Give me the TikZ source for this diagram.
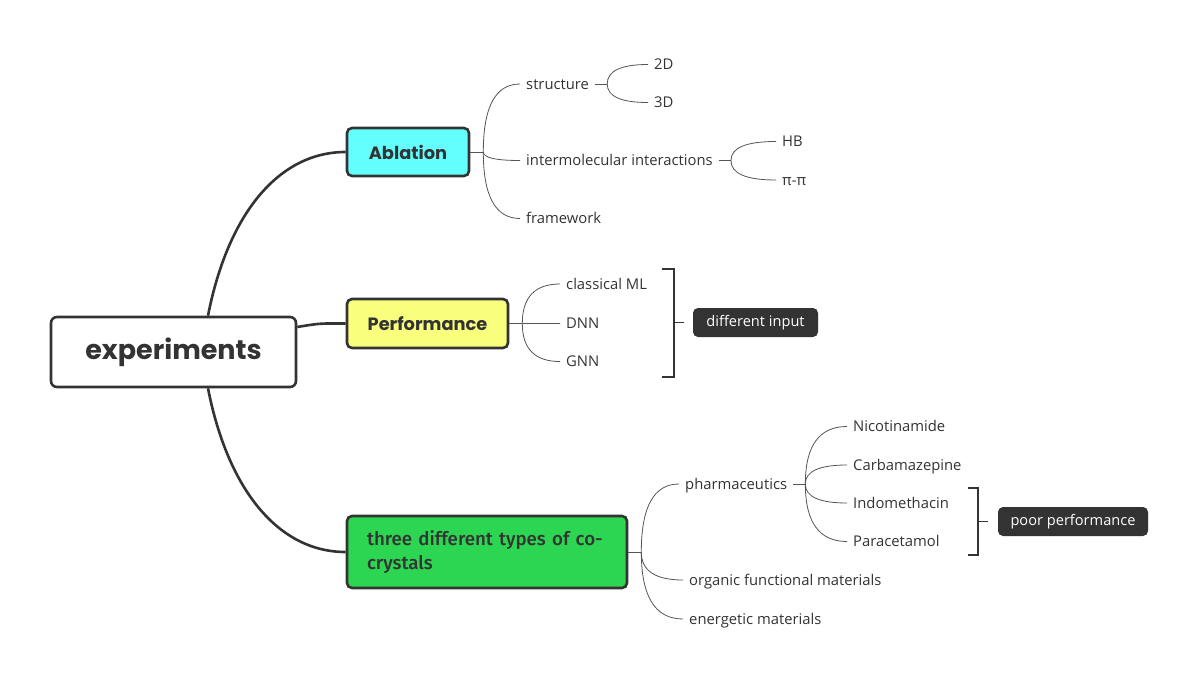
\documentclass[tikz,border=0pt]{standalone}
\usepackage{fontspec}
\setmainfont{Open Sans}
\newfontfamily\headfont{Poppins}
\newfontfamily\medfont{Fira Sans}[UprightFont=* Medium]
\usetikzlibrary{calc}
\definecolor{ink}{HTML}{333333}
\definecolor{thin}{HTML}{555555}
\definecolor{cyanfill}{HTML}{63FFFF}
\definecolor{yellowfill}{HTML}{F9FF7C}
\definecolor{greenfill}{HTML}{2CD552}
\tikzset{
  mainbox/.style={draw=ink, line width=2.6pt, rounded corners=6pt, fill=white, text=ink, inner sep=0pt},
  topicbox/.style={draw=ink, line width=2.6pt, rounded corners=5pt, text=ink, inner sep=0pt, font=\fontsize{17.8}{20}\headfont\bfseries},
  leaf/.style={anchor=west, inner xsep=6pt, inner ysep=0pt, text=ink, font=\fontsize{14.8}{16}\selectfont, text height=10.6pt, text depth=0pt},
  tag/.style={fill=ink, text=white, rounded corners=5pt, inner sep=0pt, font=\fontsize{14.6}{16}\selectfont},
  thick link/.style={draw=ink, line width=2.6pt},
  thin link/.style={draw=thin, line width=0.8pt},
  bracket/.style={draw=ink, line width=1.8pt},
}
% quadratic XMind-like curve from branch #1 to child anchor #2
\newcommand{\qlink}[2]{\draw[thin link] (#1) .. controls ($(#1)!0.667!(#1 |- #2)$) and ($(#2)!0.667!(#1 |- #2)$) .. (#2);}
\begin{document}
\begin{tikzpicture}[x=1pt,y=-1pt]
\useasboundingbox (0,0) rectangle (1198,684);
\fill[white] (0,0) rectangle (1198,684);

% main nodes
\node[mainbox, minimum width=245pt, minimum height=70pt] (root) at (173.5,352) {\fontsize{27}{30}\headfont\bfseries experiments};
\node[topicbox, fill=cyanfill, minimum width=122pt, minimum height=48pt] (abl) at (408,152) {Ablation};
\node[topicbox, fill=yellowfill, minimum width=161pt, minimum height=49pt] (perf) at (427.5,323.5) {Performance};
\node[topicbox, fill=greenfill, minimum width=280pt, minimum height=72pt, align=left, text width=240pt, font=\fontsize{18.7}{24}\medfont] (three) at (487,552) {three different types of co-\\crystals};

% root connectors
\draw[thick link] ([xshift=34.5pt]root.north) .. controls ($([xshift=34.5pt]root.north)+(20,-102)$) and ($(abl.west)+(-67,0)$) .. (abl.west);
\draw[thick link] ([yshift=25pt]root.east) .. controls ($([yshift=25pt]root.east)+(24,-4)$) and ($(perf.west)+(-26,0)$) .. (perf.west);
\draw[thick link] ([xshift=34.5pt]root.south) .. controls ($([xshift=34.5pt]root.south)+(20,102)$) and ($(three.west)+(-67,0)$) .. (three.west);

% Ablation subtree
\node[leaf] (st) at (520,84) {structure};
\node[leaf] (im) at (520,160.5) {intermolecular interactions};
\node[leaf] (fw) at (520,218.5) {framework};
\node[leaf] (d2) at (648,64.5) {2D};
\node[leaf] (d3) at (648,102.5) {3D};
\node[leaf] (hb) at (776,141.5) {HB};
\node[leaf] (pp) at (776,180) {π-π};

\coordinate (ablB) at ($(abl.east)+(13,0)$);
\draw[thin link] (abl.east) -- (ablB);
\qlink{ablB}{st.west}
\qlink{ablB}{im.west}
\qlink{ablB}{fw.west}

\coordinate (stB) at ($(st.east)+(12,0)$);
\draw[thin link] (st.east) -- (stB);
\qlink{stB}{d2.west}
\qlink{stB}{d3.west}

\coordinate (imB) at ($(im.east)+(12,0)$);
\draw[thin link] (im.east) -- (imB);
\qlink{imB}{hb.west}
\qlink{imB}{pp.west}

% Performance subtree
\node[leaf] (ml) at (560,284) {classical ML};
\node[leaf] (dnn) at (560,323.5) {DNN};
\node[leaf] (gnn) at (560,361.5) {GNN};
\coordinate (perfB) at ($(perf.east)+(13,0)$);
\draw[thin link] (perf.east) -- (perfB);
\qlink{perfB}{ml.west}
\qlink{perfB}{dnn.west}
\qlink{perfB}{gnn.west}

\coordinate (b1t) at (662,269);
\coordinate (b1b) at (662,377);
\coordinate (b1m) at (674,322.5);
\draw[bracket] (b1t) -- ++(12,0) |- (b1b);
\node[tag, minimum width=125pt, minimum height=29pt] (diff) at (755.5,322.5) {different input};
\draw[bracket] (b1m) -- ($(diff.west)+(-9,0)$);

% Co-crystal subtree
\node[leaf] (ph) at (679,484) {pharmaceutics};
\node[leaf] (ofm) at (683,580) {organic functional materials};
\node[leaf] (em) at (683,619) {energetic materials};
\coordinate (threeB) at ($(three.east)+(13,0)$);
\draw[thin link] (three.east) -- (threeB);
\qlink{threeB}{ph.west}
\qlink{threeB}{ofm.west}
\qlink{threeB}{em.west}

\node[leaf] (nic) at (847,426.5) {Nicotinamide};
\node[leaf] (car) at (847,465) {Carbamazepine};
\node[leaf] (ind) at (847,503) {Indomethacin};
\node[leaf] (par) at (847,541.5) {Paracetamol};
\coordinate (phB) at ($(ph.east)+(12,0)$);
\draw[thin link] (ph.east) -- (phB);
\qlink{phB}{nic.west}
\qlink{phB}{car.west}
\qlink{phB}{ind.west}
\qlink{phB}{par.west}

\coordinate (b2t) at (968,488);
\coordinate (b2b) at (968,555);
\coordinate (b2m) at (978,521.5);
\draw[bracket] (b2t) -- ++(10,0) |- (b2b);
\node[tag, minimum width=150pt, minimum height=29pt] (poor) at (1073,521.5) {poor performance};
\draw[bracket] (b2m) -- ($(poor.west)+(-10,0)$);
\end{tikzpicture}
\end{document}
